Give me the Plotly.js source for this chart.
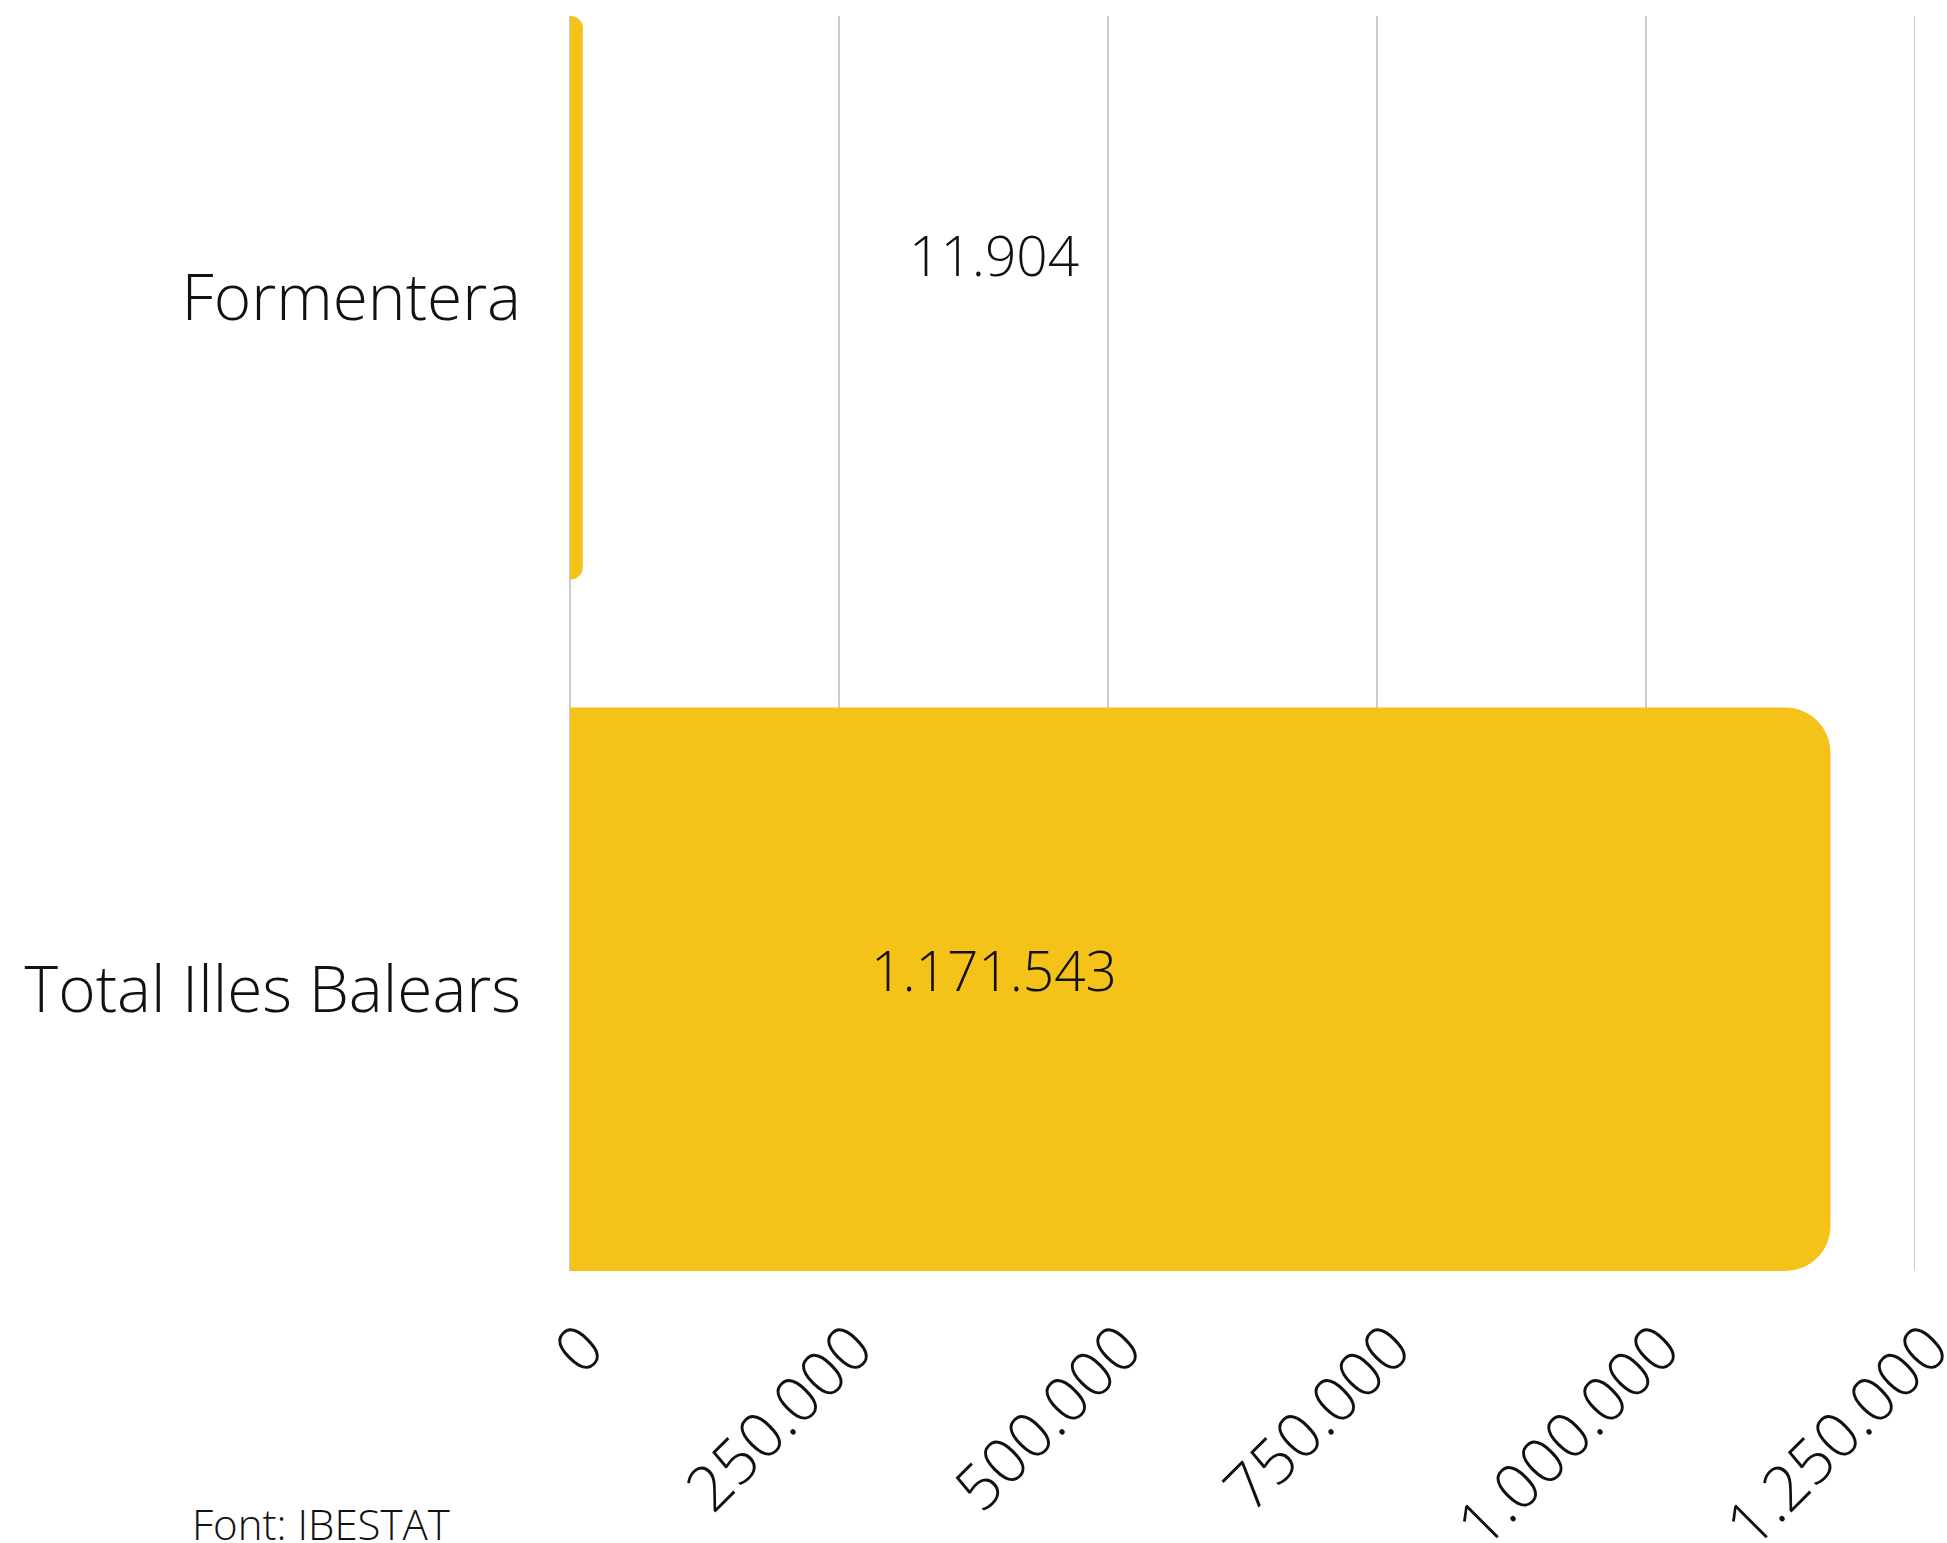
<!DOCTYPE html>
<html>
<head>
<meta charset="utf-8">
<script src="https://cdn.plot.ly/plotly-3.0.1.min.js"></script>
<style>html,body{margin:0;padding:0;background:#fff;}#chart{width:1947px;height:1543px;}</style>
</head>
<body>
<div id="chart"></div>
<script>
const categories = ["Formentera", "Total Illes Balears"];
const values = [11904, 1171543];
const tickValues = [0, 250000, 500000, 750000, 1000000, 1250000];
const tickLabels = ["0", "250.000", "500.000", "750.000", "1.000.000", "1.250.000"];
const sourceText = "Font: IBESTAT";

function fmt(v){ return v.toString().replace(/\B(?=(\d{3})+(?!\d))/g, "."); }

const FONT = "Open Sans, sans-serif";
const labelShift = [43, 20];

const trace = {
  type: "bar",
  orientation: "h",
  y: categories,
  x: values,
  marker: {color: "#F5C219", cornerradius: 45},
  hoverinfo: "skip"
};

const annotations = categories.map((c, i) => ({
  x: 0.315, xref: "paper", xanchor: "center",
  y: c, yref: "y", yanchor: "middle", yshift: labelShift[i],
  text: fmt(values[i]), showarrow: false,
  font: {family: FONT, size: 55, color: "#111", weight: 300}
}));
annotations.push({
  x: -0.282, xref: "paper", xanchor: "left",
  y: -0.2014, yref: "paper", yanchor: "middle",
  text: sourceText, showarrow: false,
  font: {family: FONT, size: 42, color: "#111", weight: 300}
});

const layout = {
  width: 1947, height: 1543,
  margin: {l: 570, r: 30, t: 16, b: 272},
  paper_bgcolor: "#fff", plot_bgcolor: "#fff",
  showlegend: false,
  bargap: 0.185,
  xaxis: {
    range: [0, 1252000],
    tickvals: tickValues, ticktext: tickLabels,
    tickangle: -45,
    showgrid: true, gridcolor: "#cccccc", gridwidth: 1.3,
    zeroline: true, zerolinecolor: "#cccccc", zerolinewidth: 1.3,
    showline: false, ticks: "",
    ticklabelstandoff: 26,
    ticklabelshift: 15,
    ticklabeloverflow: "allow",
    tickfont: {family: FONT, size: 63, color: "#111", weight: 300}
  },
  yaxis: {
    categoryorder: "array", categoryarray: categories,
    autorange: false, range: [1.4075, -0.4075],
    showgrid: false, zeroline: false, showline: false, ticks: "",
    ticklabelstandoff: 48,
    tickfont: {family: FONT, size: 64, color: "#111", weight: 300}
  },
  annotations: annotations
};

Plotly.newPlot("chart", [trace], layout, {displayModeBar: false, staticPlot: true});
</script>
</body>
</html>
